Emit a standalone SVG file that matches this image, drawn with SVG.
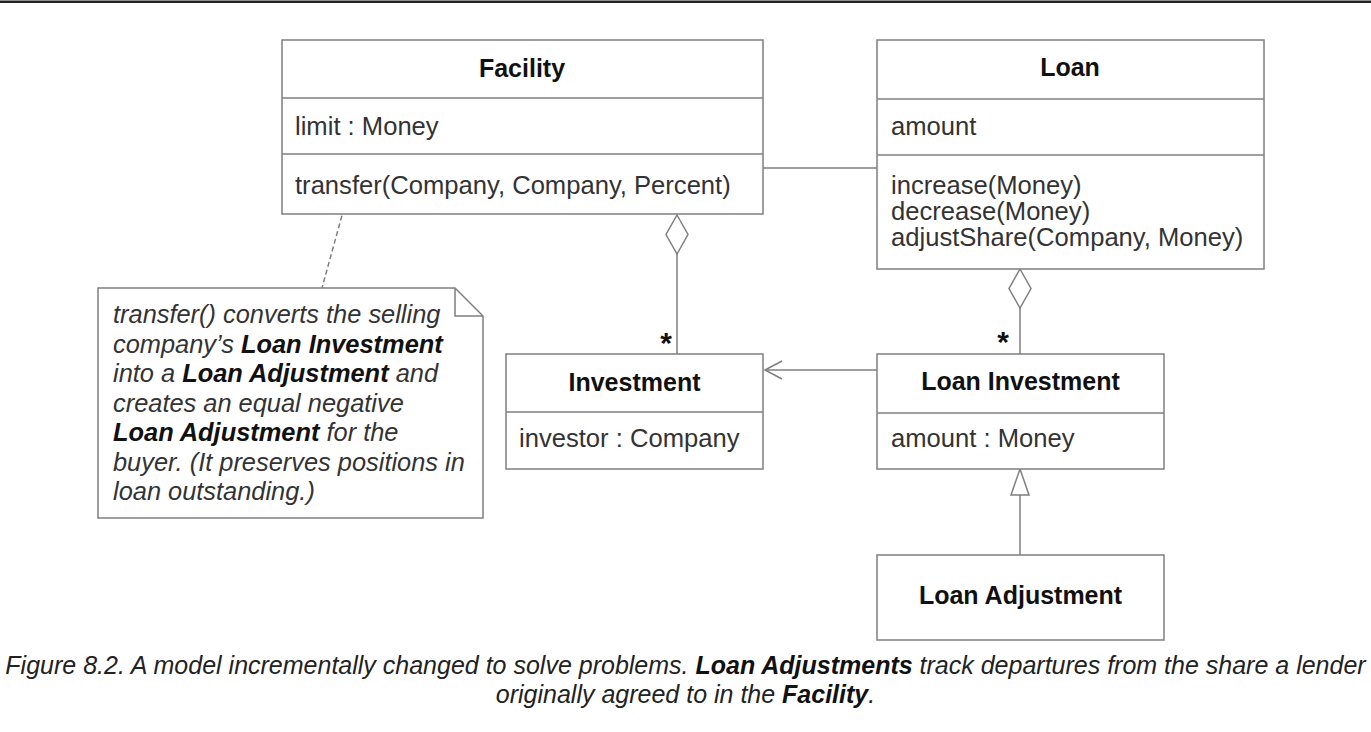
<svg xmlns="http://www.w3.org/2000/svg" width="1371" height="732" viewBox="0 0 1371 732">
<style>
.box{fill:#fff;stroke:#7f7f7f;stroke-width:1.5}
.sep{stroke:#7f7f7f;stroke-width:1.5}
.ln{stroke:#7f7f7f;stroke-width:1.5;fill:none}
.t{font-family:"Liberation Sans",Arial,sans-serif;font-size:25.6px;fill:#333}
.b{font-family:"Liberation Sans",Arial,sans-serif;font-size:25px;font-weight:bold;fill:#111;text-anchor:middle}
.n{font-family:"Liberation Sans",Arial,sans-serif;font-size:25.4px;font-style:italic;fill:#333}
.c{font-family:"Liberation Sans",Arial,sans-serif;font-size:25px;font-style:italic;fill:#222;text-anchor:middle}
.nb{font-weight:bold;fill:#111}
.star{font-family:"Liberation Sans",Arial,sans-serif;font-size:30px;font-weight:bold;fill:#111;text-anchor:middle}
</style>
<rect x="0" y="0.5" width="1371" height="2.5" fill="#222"/>

<g id="connectors">
  <line class="ln" x1="763" y1="168" x2="877" y2="168"/>
  <polygon class="ln" fill="#fff" points="677,215 688,234.5 677,254 666,234.5"/>
  <line class="ln" x1="677" y1="254" x2="677" y2="354"/>
  <polygon class="ln" fill="#fff" points="1020,269 1031,288.5 1020,308 1009,288.5"/>
  <line class="ln" x1="1020" y1="308" x2="1020" y2="354"/>
  <line class="ln" x1="877" y1="370" x2="765" y2="370"/>
  <polyline class="ln" points="782,361 765,370 782,379"/>
  <polygon class="ln" fill="#fff" points="1020,469 1029,495 1011,495"/>
  <line class="ln" x1="1020" y1="495" x2="1020" y2="555"/>
  <line class="ln" x1="344" y1="208" x2="322" y2="288" stroke-dasharray="5,3"/>
  <circle class="ln" fill="#fff" cx="346" cy="203" r="4.5"/>
  <text class="star" x="666" y="353">*</text>
  <text class="star" x="1003" y="352">*</text>
</g>

<g id="facility">
  <rect class="box" x="282" y="40" width="481" height="174"/>
  <line class="sep" x1="282" y1="98" x2="763" y2="98"/>
  <line class="sep" x1="282" y1="154" x2="763" y2="154"/>
  <text class="b" x="522" y="77">Facility</text>
  <text class="t" x="295" y="135">limit : Money</text>
  <text class="t" x="295" y="194">transfer(Company, Company, Percent)</text>
</g>

<g id="loan">
  <rect class="box" x="877" y="40" width="387" height="229"/>
  <line class="sep" x1="877" y1="99" x2="1264" y2="99"/>
  <line class="sep" x1="877" y1="155" x2="1264" y2="155"/>
  <text class="b" x="1070" y="76">Loan</text>
  <text class="t" x="891" y="135">amount</text>
  <text class="t" x="891" y="194">increase(Money)</text>
  <text class="t" x="891" y="220">decrease(Money)</text>
  <text class="t" x="891" y="246">adjustShare(Company, Money)</text>
</g>

<g id="investment">
  <rect class="box" x="506" y="354" width="257" height="115"/>
  <line class="sep" x1="506" y1="412" x2="763" y2="412"/>
  <text class="b" x="634.5" y="391">Investment</text>
  <text class="t" x="519" y="447">investor : Company</text>
</g>

<g id="loan-investment">
  <rect class="box" x="877" y="354" width="287" height="115"/>
  <line class="sep" x1="877" y1="413" x2="1164" y2="413"/>
  <text class="b" x="1020.5" y="390">Loan Investment</text>
  <text class="t" x="891" y="447">amount : Money</text>
</g>

<g id="loan-adjustment">
  <rect class="box" x="877" y="555" width="287" height="85"/>
  <text class="b" x="1020.5" y="604">Loan Adjustment</text>
</g>

<g id="note">
  <polygon class="box" points="98,288 455,288 483,316 483,518 98,518"/>
  <polyline class="ln" points="455,288 455,316 483,316"/>
  <text class="n" x="113" y="323">transfer() converts the selling</text>
  <text class="n" x="113" y="352.5">company’s <tspan class="nb">Loan Investment</tspan></text>
  <text class="n" x="113" y="382">into a <tspan class="nb">Loan Adjustment</tspan> and</text>
  <text class="n" x="113" y="411.5">creates an equal negative</text>
  <text class="n" x="113" y="441"><tspan class="nb">Loan Adjustment</tspan> for the</text>
  <text class="n" x="113" y="470.5">buyer. (It preserves positions in</text>
  <text class="n" x="113" y="500">loan outstanding.)</text>
</g>

<g id="caption">
  <text class="c" x="685.5" y="674">Figure 8.2. A model incrementally changed to solve problems. <tspan class="nb">Loan Adjustments</tspan> track departures from the share a lender</text>
  <text class="c" x="685.5" y="703">originally agreed to in the <tspan class="nb">Facility</tspan>.</text>
</g>
</svg>
